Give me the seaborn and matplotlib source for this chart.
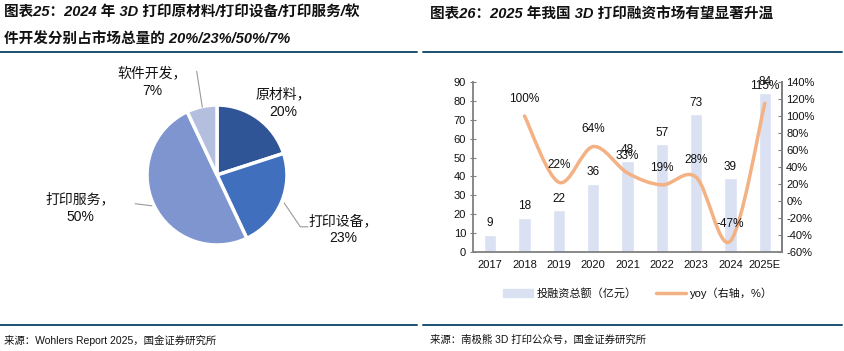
import numpy as np
import pandas as pd
import matplotlib
matplotlib.use('Agg')
import matplotlib.pyplot as plt
from matplotlib.path import Path
from matplotlib.patches import PathPatch
import seaborn as sns

# pie data
pie_labels = ['原材料', '打印设备', '打印服务', '软件开发']
pie_values = [20, 23, 50, 7]
pie_colors = ['#2F5597', '#4070BD', '#7E95CF', '#B4BFE0']

# bar / line data
years = ['2017', '2018', '2019', '2020', '2021', '2022', '2023', '2024', '2025E']
amount = [9, 18, 22, 36, 48, 57, 73, 39, 84]
yoy_years = ['2018', '2019', '2020', '2021', '2022', '2023', '2024', '2025E']
yoy = [100, 22, 64, 33, 19, 28, -47, 115]

sns.set_style('white')
plt.rcParams['font.family'] = ['Liberation Sans', 'Noto Sans CJK SC', 'DejaVu Sans']

W, H = 845, 351
fig = plt.figure(figsize=(W / 100, H / 100), dpi=100)


def fx(px):
    return px / W


def fy(py):
    return 1 - py / H


rule = '#1B4F72'
title_kw = dict(fontsize=10.5, fontweight='bold', style='italic', color='#111111',
                family=['Liberation Sans', 'Noto Sans CJK SC'])

# titles
fig.text(fx(4), fy(13), '图表25：2024 年 3D 打印原材料/打印设备/打印服务/软', va='center', **title_kw)
fig.text(fx(4), fy(40), '件开发分别占市场总量的 20%/23%/50%/7%', va='center', **title_kw)
fig.text(fx(430), fy(15), '图表26：2025 年我国 3D 打印融资市场有望显著升温', va='center', **title_kw)

# rules
for x0, x1 in [(0, 417), (423, 842)]:
    fig.add_artist(plt.Line2D([fx(x0), fx(x1)], [fy(52), fy(52)], color=rule, lw=1.4))
    fig.add_artist(plt.Line2D([fx(x0), fx(x1)], [fy(325), fy(325)], color=rule, lw=1.4))

# sources
src_kw = dict(fontsize=7.5, va='center', color='#111111')
fig.text(fx(4), fy(340), '来源：Wohlers Report 2025，国金证券研究所', **src_kw)
fig.text(fx(430), fy(340), '来源：南极熊 3D 打印公众号，国金证券研究所', **src_kw)

# ---- pie ----
cx, cy, r = 217, 175, 70
axp = fig.add_axes([fx(cx - r), fy(cy + r), 2 * r / W, 2 * r / H])
axp.pie(pie_values, colors=pie_colors, startangle=90, counterclock=False,
        wedgeprops=dict(edgecolor='white', linewidth=2.5))
axp.set_xlim(-1, 1)
axp.set_ylim(-1, 1)
axp.set_aspect('auto')
axp.axis('off')

label_pos = [(0.95, 1.03), (1.8, -0.78), (-1.95, -0.47), (-0.93, 1.33)]
for lab, val, (lx, ly) in zip(pie_labels, pie_values, label_pos):
    axp.text(lx, ly, f'{lab}，\n{val}%', ha='center', va='center', fontsize=10,
             linespacing=1.3, color='#111111')

lead = '#999999'
axp.plot([-0.29, -0.21], [1.48, 0.97], color=lead, lw=0.8, clip_on=False)
axp.plot([0.96, 1.19, 1.3], [-0.4, -0.74, -0.74], color=lead, lw=0.8, clip_on=False)
axp.plot([-1.17, -0.93], [-0.41, -0.44], color=lead, lw=0.8, clip_on=False)

# ---- bar + line ----
left, right, top, bottom = 473, 782, 82, 252
ax = fig.add_axes([fx(left), fy(bottom), (right - left) / W, (bottom - top) / H])
df = pd.DataFrame({'year': years, 'amount': amount})
sns.barplot(data=df, x='year', y='amount', color='#D9E1F2', saturation=1,
            width=0.35, ax=ax)
ax.set_xlim(-0.5, len(years) - 0.5)
ax.set_ylim(0, 90)
ax.set_yticks(range(0, 91, 10))
ax.set_xlabel('')
ax.set_ylabel('')
for i, v in enumerate(amount):
    ax.annotate(str(v), (i, v), xytext=(0, 4), textcoords='offset points',
                ha='center', va='bottom', fontsize=8.5, color='#111111')

ax2 = ax.twinx()
ax2.set_ylim(-60, 140)
ax2.set_yticks(range(-60, 141, 20))
ax2.set_yticklabels([f'{t}%' for t in range(-60, 141, 20)])

# smooth curve through yoy points (Catmull-Rom as cubic Bezier)
xs = np.array([years.index(y) for y in yoy_years], dtype=float)
ys = np.array(yoy, dtype=float)
pts = np.column_stack([xs, ys])
ext = np.vstack([pts[0], pts, pts[-1]])
verts = [pts[0]]
codes = [Path.MOVETO]
for i in range(len(pts) - 1):
    p0, p1, p2, p3 = ext[i], ext[i + 1], ext[i + 2], ext[i + 3]
    c1 = p1 + (p2 - p0) / 6
    c2 = p2 - (p3 - p1) / 6
    verts += [c1, c2, p2]
    codes += [Path.CURVE4] * 3
ax2.add_patch(PathPatch(Path(verts, codes), facecolor='none', edgecolor='#F4B183',
                        lw=2.5, capstyle='round'))
for x, v in zip(xs, ys):
    ax2.annotate(f'{int(v)}%', (x, v), xytext=(0, 8), textcoords='offset points',
                 ha='center', va='bottom', fontsize=8.5, color='#111111')

spine_c = '#808080'
for a in (ax, ax2):
    a.spines['top'].set_visible(False)
    for s in ('left', 'right', 'bottom'):
        a.spines[s].set_color(spine_c)
        a.spines[s].set_linewidth(1.3)
    a.tick_params(axis='both', labelsize=8, colors='#111111', pad=3)
ax.tick_params(axis='y', direction='inout', length=4, color=spine_c, left=True)
ax.tick_params(axis='x', length=0, pad=6)
ax2.tick_params(axis='y', direction='in', length=3, color=spine_c, right=True)
ax2.spines['left'].set_visible(False)
ax2.spines['bottom'].set_visible(False)

# legend
fig.add_artist(plt.Rectangle((fx(503), fy(297)), fx(30), 8 / H, color='#D9E1F2',
                             transform=fig.transFigure))
fig.text(fx(537), fy(293), '投融资总额（亿元）', fontsize=8, va='center', color='#111111')
fig.add_artist(plt.Line2D([fx(656), fx(686)], [fy(293), fy(293)], color='#F4B183', lw=2.5))
fig.text(fx(690), fy(293), 'yoy（右轴，%）', fontsize=8, va='center', color='#111111')

fig.savefig('out.png', dpi=100)
